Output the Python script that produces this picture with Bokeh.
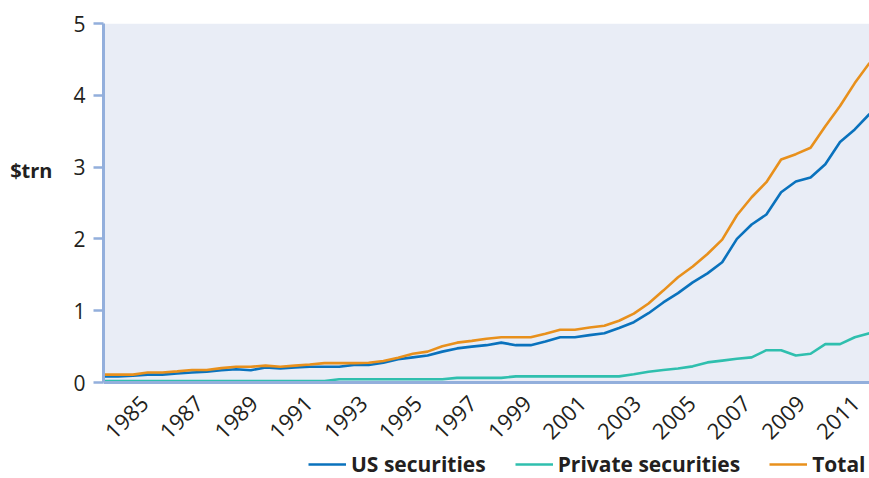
import numpy as np
from bokeh.plotting import figure
from bokeh.models import (ColumnDataSource, Range1d, FixedTicker, Legend, LegendItem,
                          BoxAnnotation)
from bokeh.embed import file_html
from bokeh.resources import INLINE
from math import pi

# Foreign holdings of US securities, $trn (half-yearly observations)
us_securities = [0.085, 0.085, 0.095, 0.11, 0.11, 0.125, 0.14, 0.15, 0.17, 0.185,
                 0.17, 0.21, 0.195, 0.21, 0.22, 0.22, 0.22, 0.245, 0.245, 0.275,
                 0.325, 0.35, 0.375, 0.43, 0.475, 0.5, 0.52, 0.555, 0.52, 0.52,
                 0.57, 0.63, 0.63, 0.66, 0.685, 0.76, 0.84, 0.965, 1.115, 1.245,
                 1.395, 1.52, 1.675, 2.0, 2.2, 2.34, 2.65, 2.8, 2.855, 3.04,
                 3.35, 3.525, 3.74]
private_securities = [0.02, 0.02, 0.02, 0.02, 0.02, 0.02, 0.02, 0.02, 0.02, 0.02,
                      0.02, 0.02, 0.02, 0.02, 0.02, 0.02, 0.045, 0.045, 0.045, 0.045,
                      0.045, 0.045, 0.045, 0.045, 0.065, 0.065, 0.065, 0.065, 0.085, 0.085,
                      0.085, 0.085, 0.085, 0.085, 0.085, 0.085, 0.115, 0.15, 0.175, 0.195,
                      0.225, 0.28, 0.305, 0.33, 0.35, 0.45, 0.45, 0.375, 0.4, 0.535,
                      0.535, 0.63, 0.685]
total = [0.11, 0.11, 0.11, 0.14, 0.14, 0.155, 0.175, 0.175, 0.2, 0.22,
         0.22, 0.235, 0.22, 0.235, 0.25, 0.27, 0.27, 0.27, 0.275, 0.30,
         0.345, 0.40, 0.43, 0.505, 0.555, 0.58, 0.61, 0.63, 0.63, 0.63,
         0.68, 0.735, 0.735, 0.765, 0.79, 0.86, 0.96, 1.10, 1.28, 1.465,
         1.615, 1.79, 1.99, 2.33, 2.58, 2.79, 3.105, 3.18, 3.27, 3.57,
         3.85, 4.17, 4.45]
tick_years = [1985, 1987, 1989, 1991, 1993, 1995, 1997, 1999, 2001, 2003,
              2005, 2007, 2009, 2011]
y_ticks = [0, 1, 2, 3, 4, 5]

# observation dates spread evenly across the period shown
dates = np.linspace(1983.5, 2011.5, len(total))

src = ColumnDataSource(dict(x=dates, us=us_securities, priv=private_securities,
                            tot=total))

FONT = "Open Sans"
TEXT = "#231f20"
AXIS = "#93afdc"
PANEL = "#e9edf6"

# the frame runs to the bottom of the canvas so that the year labels and the
# legend can sit inside it, underneath the zero line
p = figure(width=869, height=478, output_backend="svg", toolbar_location=None,
           x_range=Range1d(1983.5, 2011.5), y_range=Range1d(-1.337, 5),
           min_border_left=103, min_border_right=0, min_border_top=23,
           min_border_bottom=0)
p.background_fill_color = "white"
p.border_fill_color = "white"
p.outline_line_color = None
p.grid.visible = False

# shaded plotting area, from zero up to the top of the scale
p.add_layout(BoxAnnotation(bottom=0, top=5, fill_color=PANEL, fill_alpha=1,
                           line_color=None, level="underlay"))

r_us = p.line("x", "us", source=src, line_color="#0a72bd", line_width=2.6)
r_pr = p.line("x", "priv", source=src, line_color="#2fbfae", line_width=2.6)
r_to = p.line("x", "tot", source=src, line_color="#e8901c", line_width=2.6)

# y axis, with its unit written horizontally at the left; blank trailing
# lines lift the unit up to the middle of the 0-5 scale
p.yaxis.ticker = FixedTicker(ticks=y_ticks)
p.yaxis.bounds = (0, 5)
p.yaxis.axis_line_color = AXIS
p.yaxis.axis_line_width = 3
p.yaxis.major_tick_line_color = AXIS
p.yaxis.major_tick_line_width = 2.5
p.yaxis.major_tick_out = 10
p.yaxis.major_tick_in = 0
p.yaxis.minor_tick_line_color = None
p.yaxis.major_label_text_font = FONT
p.yaxis.major_label_text_font_size = "21px"
p.yaxis.major_label_text_color = TEXT
p.yaxis.major_label_standoff = 8
p.yaxis.axis_label = "$trn" + "\n\u00a0" * 5
p.yaxis.axis_label_orientation = "horizontal"
p.yaxis.axis_label_text_font = FONT
p.yaxis.axis_label_text_font_size = "20px"
p.yaxis.axis_label_text_font_style = "bold"
p.yaxis.axis_label_text_color = TEXT
p.yaxis.axis_label_standoff = 18

# x axis pinned to the zero line: rotated year labels, no tick marks
p.xaxis.fixed_location = 0
p.xaxis.ticker = FixedTicker(ticks=tick_years)
p.xaxis.axis_line_color = AXIS
p.xaxis.axis_line_width = 3
p.xaxis.major_tick_line_color = None
p.xaxis.major_tick_out = 0
p.xaxis.major_tick_in = 0
p.xaxis.minor_tick_line_color = None
p.xaxis.major_label_orientation = pi / 4
p.xaxis.major_label_text_font = FONT
p.xaxis.major_label_text_font_size = "22px"
p.xaxis.major_label_text_color = TEXT
p.xaxis.major_label_standoff = 17

legend = Legend(items=[LegendItem(label="US securities", renderers=[r_us]),
                       LegendItem(label="Private securities", renderers=[r_pr]),
                       LegendItem(label="Total", renderers=[r_to])],
                orientation="horizontal", location=(205, 0),
                label_text_font=FONT, label_text_font_size="21px",
                label_text_font_style="bold", label_text_color=TEXT,
                glyph_width=38, glyph_height=20, label_height=20,
                spacing=29, label_standoff=5,
                padding=0, margin=0, border_line_color=None,
                background_fill_alpha=0)
p.add_layout(legend, "center")

open("out.html", "w").write(file_html(p, INLINE))
